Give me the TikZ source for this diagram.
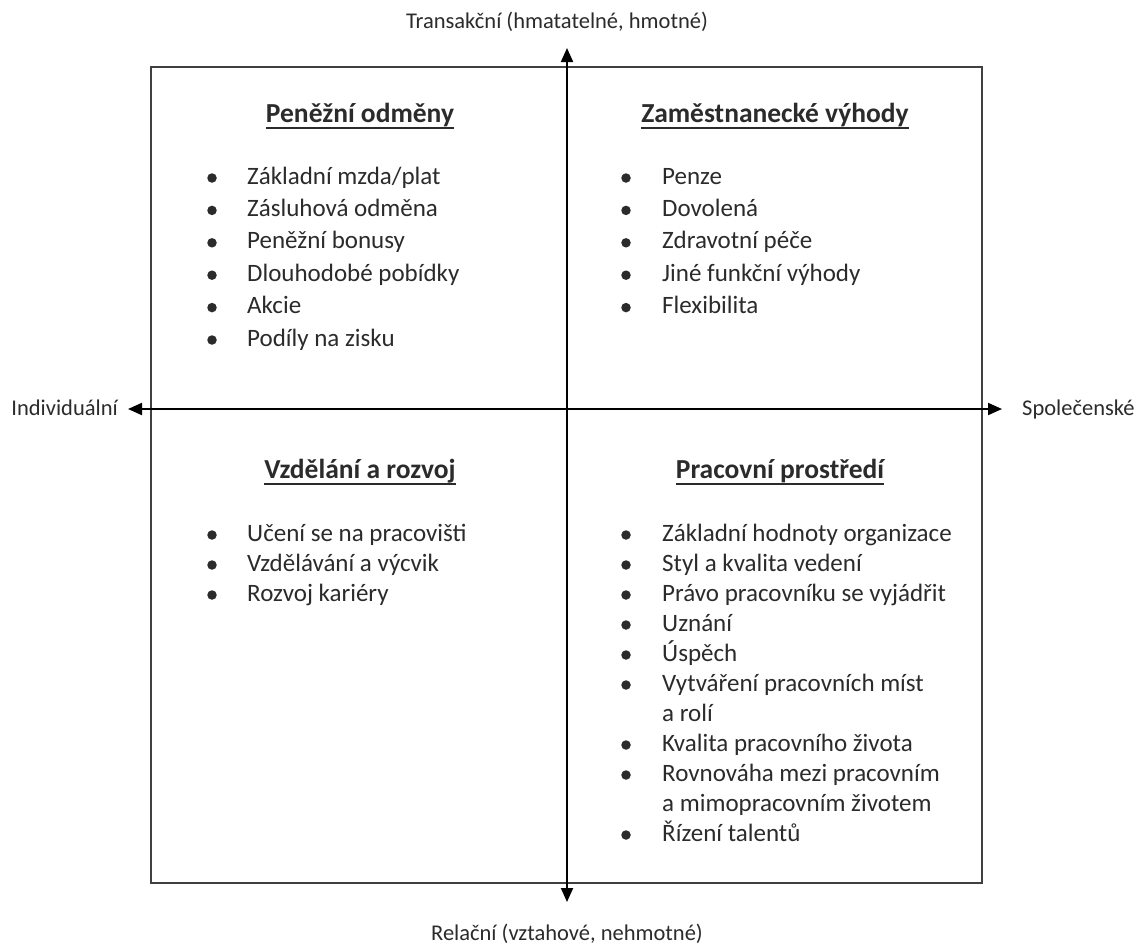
\documentclass[tikz,border=0pt]{standalone}
\usepackage{fontspec}
\setmainfont{Carlito}
\usetikzlibrary{arrows.meta}
\definecolor{txt}{HTML}{2B2B2B}
\begin{document}
\begin{tikzpicture}[x=1pt,y=-1pt,
  item/.style={anchor=base west, inner sep=0, font=\fontsize{25}{30}\selectfont, text=txt},
  bul/.style={circle, fill=txt, inner sep=0, minimum size=9.5pt},
  head/.style={anchor=base, inner sep=0, font=\fontsize{27.5}{33}\selectfont\bfseries, text=txt},
  axlab/.style={inner sep=0, font=\fontsize{22.5}{27}\selectfont, text=txt},
  axisline/.style={line width=2pt, black, {Triangle[length=14pt,width=12pt]}-{Triangle[length=14pt,width=12pt]}},
  frame/.style={line width=2.5pt, black!75},
  uline/.style={line width=1.8pt, txt}]
\useasboundingbox (0,0) rectangle (1139,948);
\fill[white] (0,0) rectangle (1139,948);
% frame
\draw[frame] (151,67) rectangle (982,883);
% axes
\coordinate (T) at (567,48);
\coordinate (B) at (567,902);
\coordinate (L) at (128,409);
\coordinate (R) at (1002,409);
\draw[axisline] (B) -- (T);
\draw[axisline] (L) -- (R);
% axis labels
\node[axlab, anchor=base] (tlab) at (557,28) {Transakční (hmatatelné, hmotné)};
\node[axlab, anchor=base] (blab) at (567,940) {Relační (vztahové, nehmotné)};
\node[axlab, anchor=base east] (llab) at (118,415) {Individuální};
\node[axlab, anchor=base west] (rlab) at (1022,415) {Společenské};
% headings
\node[head] (h1) at (360,122) {Peněžní odměny};
\node[head] (h2) at (775,122) {Zaměstnanecké výhody};
\node[head] (h3) at (360,478) {Vzdělání a rozvoj};
\node[head] (h4) at (780,478) {Pracovní prostředí};
\foreach \h in {h1,h2,h3,h4}
  \draw[uline] ([yshift=-6pt]\h.base west) -- ([yshift=-6pt]\h.base east);
% top-left items
\foreach \t [count=\i] in {{Základní mzda/plat},{Zásluhová odměna},{Peněžní bonusy},{Dlouhodobé pobídky},{Akcie},{Podíly na zisku}}{
  \node[bul] (tlb\i) at (212,{178+32.4*(\i-1)}) {};
  \node[item] (tl\i) at (247,{184+32.4*(\i-1)}) {\t};
}
% top-right items
\foreach \t [count=\i] in {{Penze},{Dovolená},{Zdravotní péče},{Jiné funkční výhody},{Flexibilita}}{
  \node[bul] (trb\i) at (626,{178+32.4*(\i-1)}) {};
  \node[item] (tr\i) at (662,{184+32.4*(\i-1)}) {\t};
}
% bottom-left items
\foreach \t [count=\i] in {{Učení se na pracovišti},{Vzdělávání a výcvik},{Rozvoj kariéry}}{
  \node[bul] (blb\i) at (212,{535+30*(\i-1)}) {};
  \node[item] (bl\i) at (247,{541+30*(\i-1)}) {\t};
}
% bottom-right items
\foreach \t [count=\i] in {{Základní hodnoty organizace},{Styl a kvalita vedení},{Právo pracovníku se vyjádřit},{Uznání},{Úspěch},{Vytváření pracovních míst},{a rolí},{Kvalita pracovního života},{Rovnováha mezi pracovním},{a mimopracovním životem},{Řízení talentů}}{
  \node[item] (br\i) at (662,{541+30*(\i-1)}) {\t};
}
\foreach \i in {1,2,3,4,5,6,8,9,11}
  \node[bul] (brb\i) at (626,{535+30*(\i-1)}) {};
\end{tikzpicture}
\end{document}
